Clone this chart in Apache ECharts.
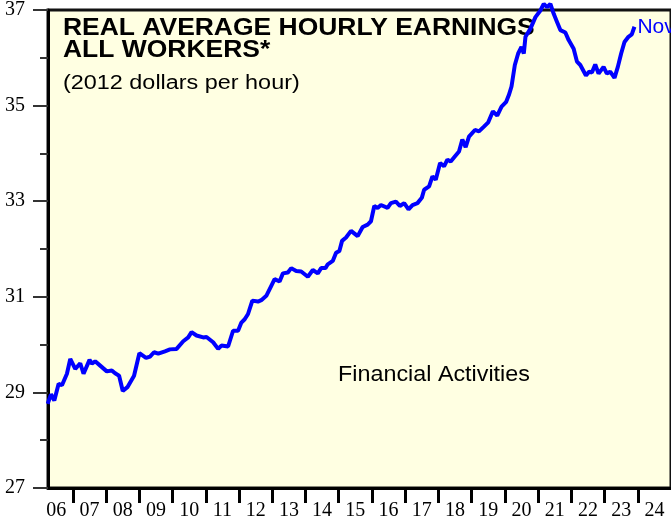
<!DOCTYPE html>
<html>
<head>
<meta charset="utf-8">
<title>Real Average Hourly Earnings</title>
<script src="https://cdn.jsdelivr.net/npm/echarts@6/dist/echarts.min.js"></script>
<style>
    html,body{margin:0;padding:0;background:#fff;}
    #main{width:671px;height:523px;}
</style>
</head>
<body>
<div id="main"></div>
<script>
// 月度数据 (年份小数)
var dates=[2006.24,2006.34,2006.44,2006.57,2006.67,2006.82,2006.92,2007.07,2007.22,2007.32,
    2007.50,2007.57,2007.67,2007.82,2008.02,2008.17,2008.27,2008.39,2008.50,2008.64,
    2008.84,2009.00,2009.20,2009.32,2009.44,2009.57,2009.77,2009.92,2010.12,2010.32,
    2010.47,2010.57,2010.72,2010.92,2011.02,2011.22,2011.37,2011.47,2011.67,2011.82,
    2011.97,2012.07,2012.17,2012.27,2012.40,2012.57,2012.67,2012.82,2012.97,2013.07,
    2013.22,2013.32,2013.47,2013.57,2013.72,2013.87,2014.07,2014.22,2014.37,2014.47,
    2014.60,2014.67,2014.82,2014.92,2015.02,2015.10,2015.22,2015.37,2015.57,2015.72,
    2015.87,2015.97,2016.07,2016.17,2016.27,2016.47,2016.57,2016.72,2016.84,2016.97,
    2017.10,2017.22,2017.37,2017.50,2017.57,2017.72,2017.82,2017.92,2018.05,2018.17,
    2018.27,2018.37,2018.50,2018.62,2018.72,2018.82,2018.92,2019.10,2019.22,2019.37,
    2019.50,2019.64,2019.77,2019.90,2020.04,2020.12,2020.20,2020.30,2020.40,2020.50,
    2020.57,2020.62,2020.77,2020.92,2021.07,2021.17,2021.27,2021.37,2021.47,2021.57,
    2021.67,2021.82,2021.92,2022.07,2022.17,2022.27,2022.44,2022.54,2022.62,2022.72,
    2022.82,2022.97,2023.07,2023.17,2023.30,2023.40,2023.50,2023.60,2023.72,2023.82,
    2023.90];
var earnings=[28.76,28.96,28.83,29.18,29.15,29.39,29.70,29.49,29.61,29.39,
    29.68,29.60,29.65,29.56,29.44,29.46,29.40,29.35,29.03,29.11,
    29.35,29.82,29.72,29.75,29.84,29.81,29.86,29.90,29.91,30.07,
    30.15,30.26,30.19,30.15,30.16,30.05,29.91,29.98,29.96,30.29,
    30.29,30.46,30.53,30.64,30.92,30.90,30.93,31.02,31.23,31.37,
    31.32,31.49,31.51,31.60,31.54,31.53,31.42,31.56,31.49,31.60,
    31.60,31.68,31.75,31.92,31.96,32.17,32.24,32.38,32.27,32.46,
    32.51,32.58,32.90,32.86,32.92,32.86,32.96,32.99,32.90,32.96,
    32.83,32.92,32.96,33.07,33.24,33.31,33.52,33.45,33.80,33.73,
    33.87,33.83,33.94,34.04,34.29,34.13,34.35,34.49,34.46,34.56,
    34.65,34.88,34.79,34.98,35.08,35.22,35.40,35.85,36.09,36.23,
    36.09,36.44,36.61,36.85,36.99,37.13,37.06,37.13,36.92,36.75,
    36.58,36.53,36.37,36.19,35.92,35.85,35.63,35.71,35.69,35.86,
    35.67,35.81,35.67,35.71,35.58,35.81,36.09,36.33,36.44,36.49,
    36.65];
// 坐标轴刻度
var yearTicks=[2007,2008,2009,2010,2011,2012,2013,2014,2015,2016,2017,2018,2019,2020,2021,2022,2023,2024];
var yearLabels=[2006.5,2007.5,2008.5,2009.5,2010.5,2011.5,2012.5,2013.5,2014.5,2015.5,2016.5,2017.5,2018.5,2019.5,2020.5,2021.5,2022.5,2023.5,2024.5];
var titleLines=['REAL AVERAGE HOURLY EARNINGS','ALL WORKERS*'];
var subTitle='(2012 dollars per hour)';
var sectorName='Financial Activities';
var lastLabel='Nov';

function getSeriesData(){
    var data=[];
    for(var i=0;i<dates.length;i++){
        data.push([dates[i],earnings[i]]);
    }
    return data;
}

var myChart=echarts.init(document.getElementById('main'));
var option={
    animation:false,
    backgroundColor:'#fff',
    grid:{
        show:true,
        left:48,
        top:8,
        width:625,
        height:480,
        backgroundColor:'#FFFFE2',
        borderColor:'#111',
        borderWidth:3
    },
    xAxis:{
        type:'value',
        min:2006.25,
        max:2025,
        splitLine:{show:false},
        axisLine:{lineStyle:{color:'#000',width:3}},
        axisTick:{
            show:true,
            customValues:yearTicks,
            length:15,
            lineStyle:{color:'#000',width:3}
        },
        axisLabel:{
            customValues:yearLabels,
            margin:13,
            fontFamily:'Liberation Serif',
            fontSize:20,
            color:'#000',
            formatter:function(v){
                var y=Math.floor(v)%100;
                return (y<10?'0':'')+y;
            }
        }
    },
    yAxis:{
        type:'value',
        min:27,
        max:37,
        interval:2,
        splitLine:{show:false},
        axisLine:{show:true,lineStyle:{color:'#000',width:3}},
        axisTick:{show:true,length:15,lineStyle:{color:'#333',width:2}},
        minorTick:{show:true,splitNumber:2,length:8,lineStyle:{color:'#333',width:2}},
        axisLabel:{
            margin:23,
            fontFamily:'Liberation Serif',
            fontSize:20,
            color:'#000'
        }
    },
    graphic:[
        {type:'text',x:63,y:29,scaleX:1.15,z:1,style:{text:titleLines[0],font:'bold 23px "Liberation Sans"',fill:'#000',verticalAlign:'middle'}},
        {type:'text',x:63,y:51,scaleX:1.15,z:1,style:{text:titleLines[1],font:'bold 23px "Liberation Sans"',fill:'#000',verticalAlign:'middle'}},
        {type:'text',x:63,y:83,scaleX:1.17,z:1,style:{text:subTitle,font:'20px "Liberation Sans"',fill:'#000',verticalAlign:'middle'}},
        {type:'text',x:434,y:375,scaleX:1.06,z:1,style:{text:sectorName,font:'22px "Liberation Sans"',fill:'#000',align:'center',verticalAlign:'middle'}}
    ],
    series:[
        {
            name:'Financial Activities',
            type:'line',
            data:getSeriesData(),
            showSymbol:false,
            clip:false,
            z:3,
            lineStyle:{color:'#0000FF',width:4},
            endLabel:{
                show:true,
                formatter:lastLabel,
                color:'#0000FF',
                fontFamily:'Liberation Sans',
                fontSize:21,
                distance:3
            }
        }
    ]
};
myChart.setOption(option);
</script>
</body>
</html>
